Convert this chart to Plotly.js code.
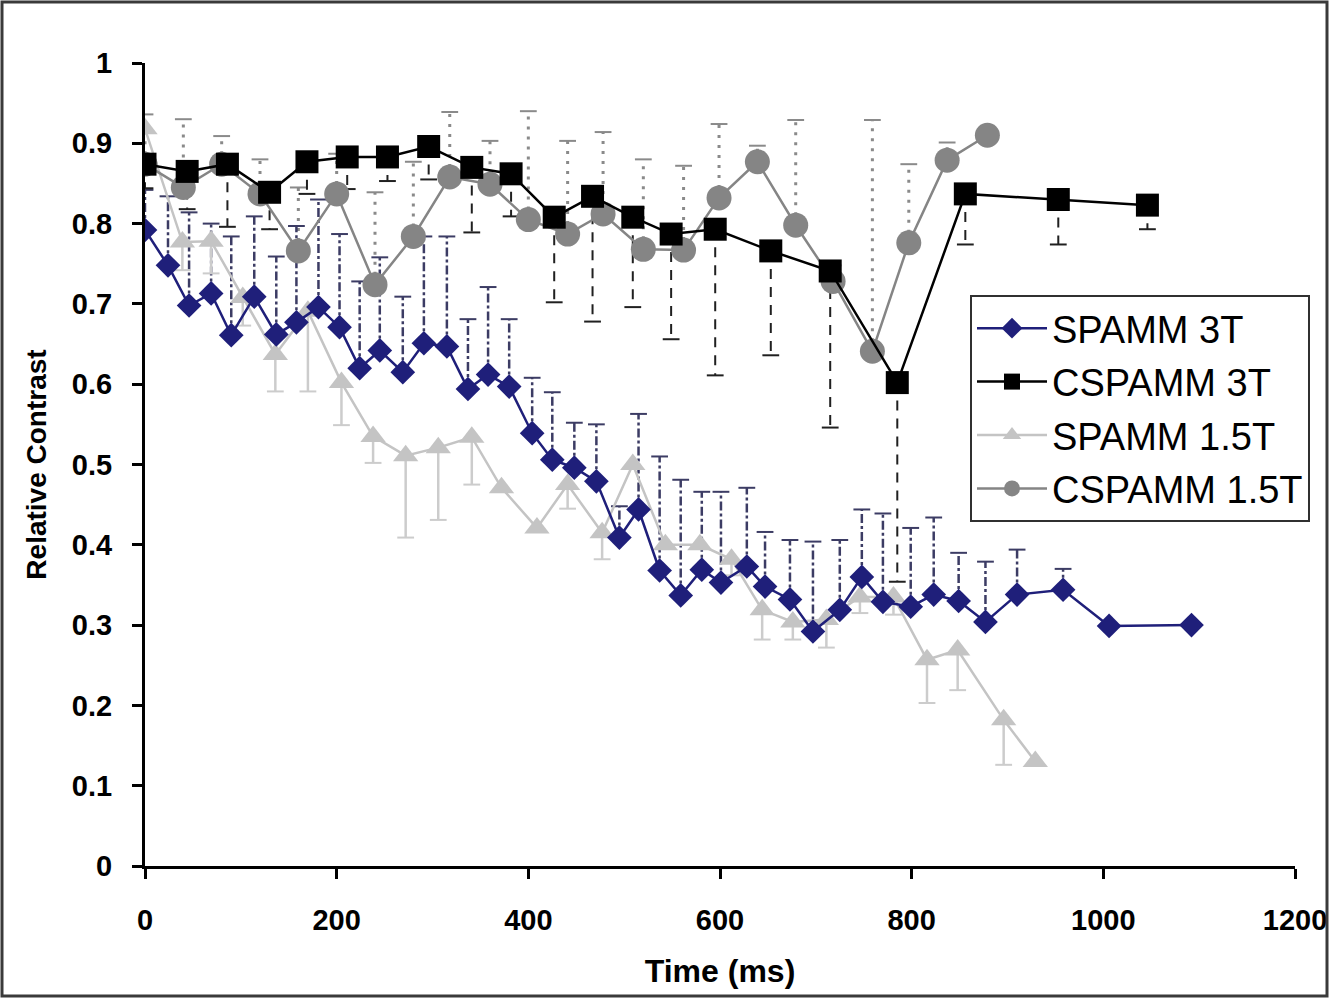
<!DOCTYPE html>
<html>
<head>
<meta charset="utf-8">
<script src="https://cdn.plot.ly/plotly-3.0.1.min.js"></script>
<style>
html,body{margin:0;padding:0;background:#fff;}
#chart{width:1330px;height:999px;}
</style>
</head>
<body>
<div id="chart"></div>
<script>
// ---- Data ----
const seriesNames = ["SPAMM 3T", "CSPAMM 3T", "SPAMM 1.5T", "CSPAMM 1.5T"];

const spamm3T_time = [0,24,46,69,90,114,137,158,181,203,224,245,269,291,315,337,358,380,404,425,448,471,495,515,537,559,581,601,628,647,673,697,725,748,770,799,823,849,877,910,958,1006,1092];
const spamm3T_val  = [0.792,0.748,0.698,0.713,0.661,0.709,0.662,0.677,0.696,0.671,0.620,0.642,0.615,0.651,0.647,0.594,0.612,0.597,0.539,0.506,0.496,0.479,0.409,0.444,0.368,0.337,0.369,0.353,0.373,0.348,0.332,0.292,0.319,0.360,0.329,0.323,0.338,0.330,0.304,0.338,0.344,0.299,0.300];
const spamm3T_errUp = [0.05,0.086,0.116,0.087,0.123,0.10,0.097,0.12,0.134,0.116,0.108,0.116,0.094,0.133,0.137,0.087,0.109,0.084,0.069,0.084,0.056,0.071,0.039,0.119,0.142,0.144,0.097,0.113,0.098,0.068,0.074,0.112,0.087,0.084,0.11,0.098,0.096,0.06,0.075,0.056,0.026,0,0];

const cspamm3T_time = [0,44,86,130,169,211,253,296,341,382,427,467,509,549,595,653,715,785,856,953,1046];
const cspamm3T_val  = [0.874,0.865,0.874,0.839,0.877,0.883,0.883,0.896,0.870,0.862,0.808,0.834,0.808,0.787,0.793,0.766,0.741,0.602,0.837,0.830,0.823];
const cspamm3T_errDown = [0.03,0.047,0.078,0.046,0.04,0.04,0.03,0.041,0.081,0.053,0.106,0.156,0.112,0.131,0.182,0.13,0.195,0.248,0.063,0.056,0.03];

const spamm15T_time = [0,39,69,102,136,170,205,238,272,306,341,372,409,441,477,509,543,579,612,644,676,711,746,781,816,848,896,929];
const spamm15T_val  = [0.918,0.777,0.778,0.708,0.637,0.691,0.602,0.535,0.511,0.521,0.534,0.471,0.421,0.475,0.415,0.50,0.40,0.40,0.382,0.319,0.304,0.307,0.335,0.335,0.257,0.269,0.182,0.130];
const spamm15T_errDown = [0,0.035,0.04,0.035,0.046,0.10,0.053,0.033,0.102,0.09,0.059,0,0,0.03,0.033,0,0,0,0.02,0.037,0.022,0.035,0.02,0.022,0.054,0.05,0.056,0];

const cspamm15T_time = [0,40,80,120,160,200,240,280,318,360,400,441,478,520,562,599,639,679,718,759,797,837,879];
const cspamm15T_val  = [0.874,0.845,0.874,0.837,0.766,0.837,0.724,0.784,0.858,0.849,0.805,0.787,0.812,0.768,0.767,0.832,0.877,0.798,0.728,0.641,0.776,0.879,0.910];
const cspamm15T_errUp = [0.062,0.085,0.035,0.043,0.079,0.05,0.115,0.093,0.081,0.054,0.135,0.116,0.102,0.112,0.105,0.092,0.02,0.131,0.02,0.288,0.098,0.022,0];

const xTickVals = [0,200,400,600,800,1000,1200];
const yTickVals = [0,0.1,0.2,0.3,0.4,0.5,0.6,0.7,0.8,0.9,1];
const yTickText = ["0","0.1","0.2","0.3","0.4","0.5","0.6","0.7","0.8","0.9","1"];

// ---- Styles ----
const NAVY = "#1f1f7a", BLACK = "#000000", LIGHT = "#c4c4c4", MID = "#858585";
const FONT = "Liberation Sans, Arial, sans-serif";

// one-sided error bars drawn as styled line segments + cap markers
function errorTraces(t, v, e, sign, color, dash, width) {
  const lx = [], ly = [], cx = [], cy = [];
  for (let i = 0; i < t.length; i++) {
    if (!e[i]) continue;
    const end = v[i] + sign * e[i];
    lx.push(t[i], t[i], null);
    ly.push(v[i], end, null);
    cx.push(t[i]); cy.push(end);
  }
  return [
    {x: lx, y: ly, mode: "lines", showlegend: false, hoverinfo: "skip",
     line: {color: color, width: width, dash: dash}},
    {x: cx, y: cy, mode: "markers", showlegend: false, hoverinfo: "skip",
     marker: {symbol: "line-ew", size: 12, line: {color: color, width: 2}}}
  ];
}

const traces = [];
traces.push(...errorTraces(cspamm15T_time, cspamm15T_val, cspamm15T_errUp, +1, "#8a8a8a", "3px,7px", 3));
traces.push(...errorTraces(spamm3T_time, spamm3T_val, spamm3T_errUp, +1, "#3c3c64", "dashdot", 2.5));
traces.push(...errorTraces(cspamm3T_time, cspamm3T_val, cspamm3T_errDown, -1, "#202020", "10px,8px", 2));
traces.push(...errorTraces(spamm15T_time, spamm15T_val, spamm15T_errDown, -1, "#cccccc", "solid", 2.5));

traces.push({
  x: spamm15T_time, y: spamm15T_val, name: seriesNames[2], mode: "lines+markers",
  legendrank: 3, legendgroup: "c",
  line: {color: LIGHT, width: 2.5},
  marker: {symbol: "triangle-up", size: 22, color: LIGHT}
});
traces.push({
  x: cspamm15T_time, y: cspamm15T_val, name: seriesNames[3], mode: "lines+markers",
  legendrank: 4, legendgroup: "d",
  line: {color: MID, width: 2.5},
  marker: {symbol: "circle", size: 25, color: MID}
});
traces.push({
  x: cspamm3T_time, y: cspamm3T_val, name: seriesNames[1], mode: "lines+markers",
  legendrank: 2, legendgroup: "b",
  line: {color: BLACK, width: 2.5},
  marker: {symbol: "square", size: 23, color: BLACK}
});
traces.push({
  x: spamm3T_time, y: spamm3T_val, name: seriesNames[0], mode: "lines+markers",
  legendrank: 1, legendgroup: "a",
  line: {color: NAVY, width: 2.5},
  marker: {symbol: "diamond", size: 19, color: NAVY}
});

const W = 1330, H = 999, L = 145, R = 35, T = 63, B = 133;
const pw = W - L - R, ph = H - T - B;
const px2x = p => (p - L) / pw;
const px2y = p => (H - B - p) / ph;

const layout = {
  width: W, height: H,
  margin: {l: L, r: R, t: T, b: B, pad: 0},
  paper_bgcolor: "#ffffff", plot_bgcolor: "#ffffff",
  font: {family: FONT, color: "#000"},
  showlegend: true,
  legend: {
    x: px2x(970), y: px2y(295), xanchor: "left", yanchor: "top",
    bgcolor: "#ffffff", bordercolor: "#303030", borderwidth: 2,
    font: {size: 38, color: "#000"},
    itemwidth: 70,
    traceorder: "grouped", tracegroupgap: 1
  },
  xaxis: {
    range: [0, 1200], tickvals: xTickVals, ticktext: xTickVals.map(String),
    showgrid: false, zeroline: false, showline: true, linecolor: "#000", linewidth: 3,
    ticks: "outside", ticklen: 10, tickwidth: 3, tickcolor: "#000",
    ticklabelstandoff: 16,
    tickfont: {size: 29, family: FONT, weight: "bold"},
    title: {text: "<b>Time (ms)</b>", font: {size: 32}, standoff: 25},
    fixedrange: true
  },
  yaxis: {
    range: [0, 1], tickvals: yTickVals, ticktext: yTickText,
    showgrid: false, zeroline: false, showline: true, linecolor: "#000", linewidth: 3,
    ticks: "outside", ticklen: 10, tickwidth: 3, tickcolor: "#000",
    ticklabelstandoff: 14,
    tickfont: {size: 29, family: FONT, weight: "bold"},
    title: {text: "<b>Relative Contrast</b>", font: {size: 28}, standoff: 18},
    fixedrange: true
  },
  shapes: [{
    type: "rect", xref: "paper", yref: "paper", layer: "above",
    x0: px2x(2), x1: px2x(W - 3), y0: px2y(H - 3), y1: px2y(2),
    line: {color: "#3a3a3a", width: 3}, fillcolor: "rgba(0,0,0,0)"
  }]
};

Plotly.newPlot("chart", traces, layout, {displayModeBar: false, staticPlot: true});
</script>
</body>
</html>
